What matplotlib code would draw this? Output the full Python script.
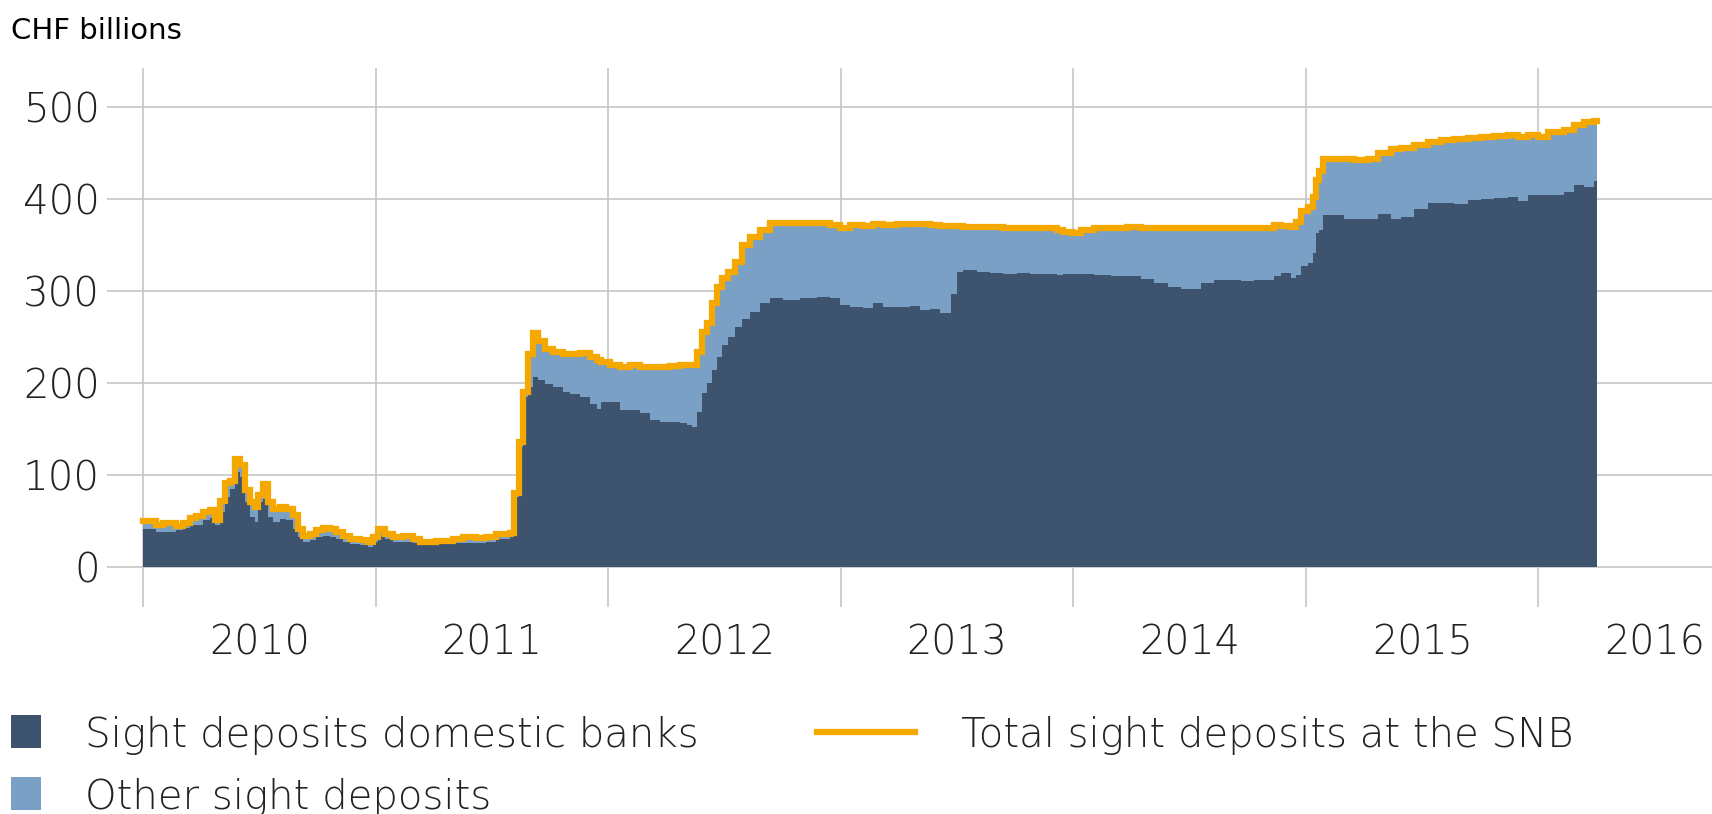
#!/usr/bin/env python3
"""SNB sight deposits, 2010-2016: stacked steps with total line -> out.png."""

import matplotlib

matplotlib.use("Agg")
import matplotlib.pyplot as plt
from matplotlib.lines import Line2D
from matplotlib.patches import Rectangle

DARK = "#3e546e"
LIGHT = "#7aa1c5"
ORANGE = "#f5a800"
GRID = "#c6c6c6"
INK = "#222222"

dates = [
    2010.000, 2010.057, 2010.086, 2010.115, 2010.143, 2010.172, 2010.200, 2010.229,
    2010.258, 2010.287, 2010.308, 2010.330, 2010.351, 2010.372, 2010.394, 2010.415,
    2010.437, 2010.458, 2010.480, 2010.494, 2010.516, 2010.537, 2010.559, 2010.587,
    2010.616, 2010.645, 2010.666, 2010.688, 2010.716, 2010.745, 2010.774, 2010.802,
    2010.831, 2010.860, 2010.888, 2010.931, 2010.967, 2010.989,
    2011.010, 2011.039, 2011.075, 2011.118, 2011.160, 2011.190, 2011.260, 2011.333,
    2011.376, 2011.433, 2011.476, 2011.519, 2011.577, 2011.594, 2011.617, 2011.634,
    2011.656, 2011.677, 2011.699, 2011.727, 2011.763, 2011.806, 2011.835, 2011.878,
    2011.921, 2011.950, 2011.971,
    2012.007, 2012.050, 2012.093, 2012.136, 2012.179, 2012.222, 2012.265, 2012.308,
    2012.337, 2012.359, 2012.380, 2012.402, 2012.423, 2012.445, 2012.466, 2012.488,
    2012.516, 2012.545, 2012.574, 2012.610, 2012.653, 2012.696, 2012.753, 2012.825,
    2012.897, 2012.954, 2012.997,
    2013.039, 2013.096, 2013.139, 2013.182, 2013.240, 2013.297, 2013.340, 2013.383,
    2013.426, 2013.455, 2013.476, 2013.498, 2013.527, 2013.584, 2013.641, 2013.699,
    2013.756, 2013.813, 2013.871, 2013.928, 2013.957, 2013.993,
    2014.032, 2014.089, 2014.160, 2014.232, 2014.290, 2014.347, 2014.405, 2014.462,
    2014.505, 2014.548, 2014.605, 2014.663, 2014.720, 2014.778, 2014.835, 2014.864,
    2014.892, 2014.935, 2014.957, 2014.978,
    2015.007, 2015.029, 2015.043, 2015.057, 2015.072, 2015.122, 2015.165, 2015.208,
    2015.265, 2015.308, 2015.365, 2015.408, 2015.466, 2015.523, 2015.580, 2015.638,
    2015.695, 2015.752, 2015.810, 2015.867, 2015.910, 2015.953,
    2016.000, 2016.039, 2016.110, 2016.153, 2016.196, 2016.238, 2016.251,
]

# total sight deposits at the SNB, CHF bn
total = [
    49.5, 45, 47.6, 47.6, 44, 47.6, 53, 55,
    60, 62, 50.5, 72, 91, 93, 117, 111,
    83, 70, 65, 77.6, 90, 70, 63, 65,
    63, 56, 41.5, 34, 36, 40, 42.6, 41.5,
    38, 34, 30.7, 29.6, 27, 32.5,
    41.5, 36, 32.6, 33, 29.7, 27, 28, 29.7,
    32, 31, 32, 35.5, 37, 80, 136, 190,
    231, 254, 246, 237, 233.7, 231, 231, 232.6,
    228, 224.6, 223,
    219, 217, 219, 217.6, 217, 217.6, 218, 219,
    219.5, 219.5, 234, 255.7, 264.8, 286.5, 304.7, 313.7,
    321, 332, 350, 359, 366, 373.6, 373.6, 373.6,
    374.3, 371.8, 369,
    371.7, 370.6, 372.4, 372, 372.4, 372.8, 372.4, 371.7,
    371, 370.6, 370.6, 370.6, 370, 370, 370, 369,
    369, 368.8, 368, 366, 364.4, 362.6,
    366.4, 368, 368, 369.3, 369, 369, 369, 369,
    369, 369, 369, 369, 369, 368, 368, 371.8,
    370.8, 370, 375.5, 387.4,
    391, 402.5, 420.6, 431, 444, 444, 444, 443,
    444, 450, 454.7, 455.8, 458.3, 462, 464.5, 465.6,
    466.7, 468, 468.8, 469.2, 468, 469.2,
    468, 472.8, 475.4, 480, 483.7, 484.4, 484.4,
]

# sight deposits of domestic banks, CHF bn
domestic = [
    41.5, 38, 38, 38, 40, 42.6, 45, 45,
    50.5, 53, 45, 60, 76, 85, 103, 97.5,
    70, 54, 49, 70, 74, 54, 49, 52,
    50.5, 41.5, 32.5, 27, 29, 32.5, 34, 32.5,
    30.7, 27, 24.5, 23.5, 21.7, 27,
    33, 29.7, 27, 27, 25.4, 23.5, 24.3, 25.4,
    26, 26, 27, 29.7, 32, 76, 130, 185,
    196, 206.5, 203.6, 199, 196, 190, 188, 185,
    177.5, 172, 179,
    179, 170.5, 170.5, 167, 159.6, 157.8, 157.8, 156,
    154, 152, 168.7, 188.6, 199.5, 214, 228.5, 241,
    250, 261, 270, 277.5, 286.5, 292, 290, 292,
    293.8, 292, 284.6,
    282.7, 281, 286.4, 282.7, 282.7, 283.4, 279, 280,
    276, 275.5, 297, 320.8, 322.7, 320.8, 319.8, 318,
    319.8, 319, 319, 317, 318, 319,
    318.8, 317.7, 316, 316, 313, 308.7, 304.3, 302,
    302, 308.7, 311.6, 312.3, 310.5, 312.3, 312.3, 316.6,
    320, 314, 317.7, 326.7,
    330.3, 341, 362.8, 366, 382.2, 382.2, 378.6, 378.6,
    378.6, 384, 378.6, 380.4, 389.5, 395.7, 395.7, 395,
    399.3, 400.4, 401.4, 402.2, 397.8, 404,
    404, 404, 407.6, 414.9, 413, 419.6, 419.6,
]

years = [2010, 2011, 2012, 2013, 2014, 2015, 2016]
y_ticks = [0, 100, 200, 300, 400, 500]


def main() -> int:
    plt.rcParams["font.family"] = ["DejaVu Sans"]
    plt.rcParams["font.weight"] = "light"
    fig = plt.figure(figsize=(17.12, 8.14), dpi=100)
    ax = fig.add_axes([0.0625, 0.254, 0.9375, 0.663])

    ax.fill_between(dates, 0, domestic, step="post", color=DARK, lw=0, zorder=2)
    ax.fill_between(dates, domestic, total, step="post", color=LIGHT, lw=0, zorder=2)
    ax.step(dates, total, where="post", color=ORANGE, lw=4.5, zorder=3,
            solid_joinstyle="miter")

    ax.set_xlim(2009.845, 2016.746)
    ax.set_ylim(-44, 543)
    for s in ax.spines.values():
        s.set_visible(False)

    ax.set_yticks(y_ticks)
    ax.set_xticks(years)
    ax.set_xticklabels([])
    ax.set_xticks([y + 0.5 for y in years], [str(y) for y in years], minor=True)
    ax.tick_params(axis="both", which="both", length=0)
    ax.tick_params(axis="y", labelsize=29, labelcolor=INK, pad=5)
    ax.tick_params(axis="x", which="minor", labelsize=28.5, labelcolor=INK, pad=12)
    ax.grid(True, which="major", color=GRID, lw=1.2, zorder=0)
    ax.set_axisbelow(True)

    fig.text(0.0064, 0.9517, "CHF billions", fontsize=21, color="black",
             va="baseline", ha="left", fontweight="normal")

    # legend, laid out by hand to match the two-column arrangement
    fig.add_artist(Rectangle((0.0064, 0.0811), 0.0175, 0.0405,
                             transform=fig.transFigure, color=DARK, lw=0))
    fig.add_artist(Rectangle((0.0064, 0.005), 0.0175, 0.0405,
                             transform=fig.transFigure, color=LIGHT, lw=0))
    fig.add_artist(Line2D([0.477, 0.5345], [0.1013, 0.1013],
                          transform=fig.transFigure, color=ORANGE, lw=4.5))
    legend_kw = dict(fontsize=29, color=INK, va="baseline", ha="left")
    fig.text(0.0497, 0.0823, "Sight deposits domestic banks", **legend_kw)
    fig.text(0.0497, 0.0061, "Other sight deposits", **legend_kw)
    fig.text(0.5613, 0.0823, "Total sight deposits at the SNB", **legend_kw)

    fig.savefig("out.png", dpi=100)
    return 0


if __name__ == "__main__":
    raise SystemExit(main())
